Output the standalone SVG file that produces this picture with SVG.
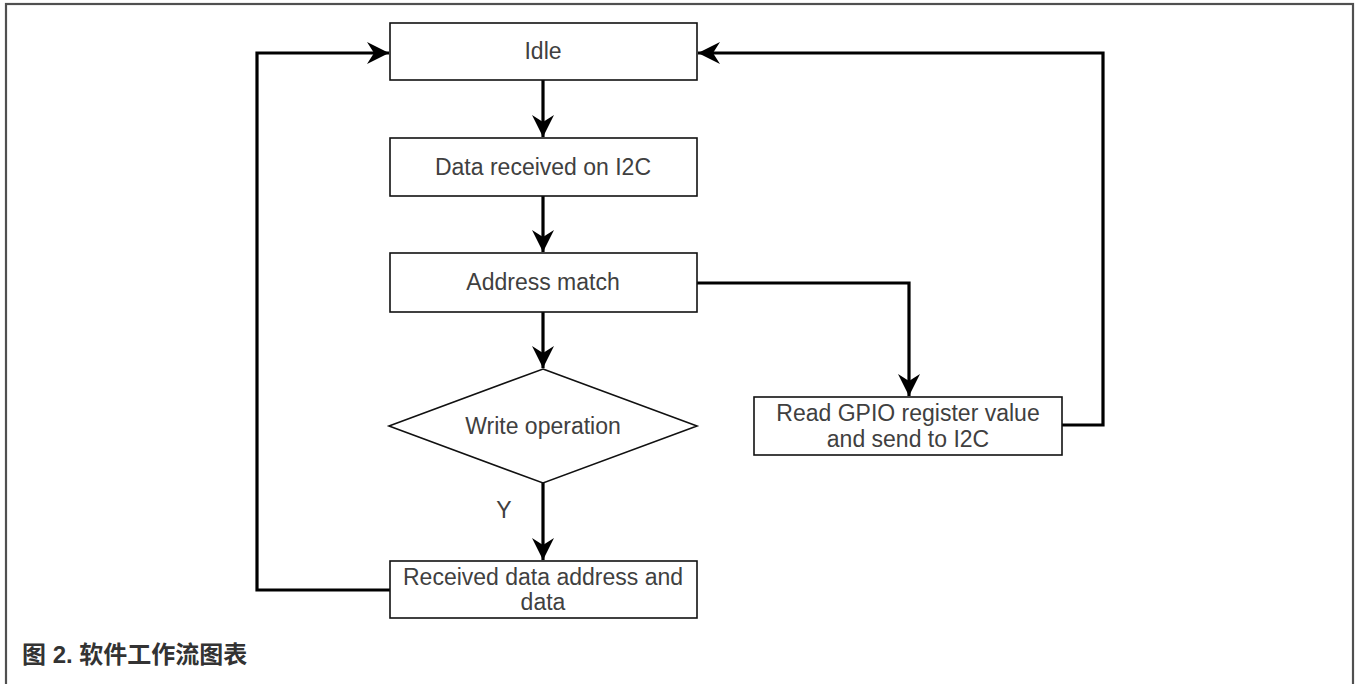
<svg xmlns="http://www.w3.org/2000/svg" width="1356" height="684" viewBox="0 0 1356 684">
  <style>
    .box { fill: #ffffff; stroke: #111111; stroke-width: 1.6; }
    .lbl { font-family: "Liberation Sans", Arial, sans-serif; font-size: 23px; fill: #404040; text-anchor: middle; dominant-baseline: central; }
    .edge { fill: none; stroke: #000000; stroke-width: 3.2; }
    .cap { font-family: "Liberation Sans", "Noto Sans CJK SC", sans-serif; font-size: 24px; font-weight: bold; fill: #333333; }
  </style>
  <defs>
    <!-- classic notched arrowhead, tip at the path end -->
    <marker id="arrow" markerUnits="userSpaceOnUse" markerWidth="24" markerHeight="24" refX="22" refY="12" orient="auto" viewBox="0 0 24 24">
      <path d="M0,1 L22,12 L0,23 L7,12 Z" fill="#000000"/>
    </marker>
  </defs>

  <rect width="1356" height="684" fill="#ffffff"/>
  <!-- frame around the figure -->
  <rect x="6" y="4" width="1347" height="720" fill="none" stroke="#505050" stroke-width="2.2"/>

  <!-- connectors -->
  <g id="connectors">
    <line class="edge" x1="543" y1="80" x2="543" y2="137" marker-end="url(#arrow)"/>
    <line class="edge" x1="543" y1="196" x2="543" y2="252" marker-end="url(#arrow)"/>
    <line class="edge" x1="543" y1="312" x2="543" y2="368" marker-end="url(#arrow)"/>
    <line class="edge" x1="543" y1="483" x2="543" y2="560" marker-end="url(#arrow)"/>
    <polyline class="edge" points="697,283 909,283 909,396" marker-end="url(#arrow)"/>
    <polyline class="edge" points="1062,425 1103,425 1103,53 698,53" marker-end="url(#arrow)"/>
    <polyline class="edge" points="390,590 257,590 257,53 389,53" marker-end="url(#arrow)"/>
    <text class="lbl" x="504" y="510">Y</text>
  </g>

  <g id="idle">
    <rect class="box" x="390" y="23" width="307" height="57"/>
    <text class="lbl" x="543" y="51">Idle</text>
  </g>

  <g id="data-received">
    <rect class="box" x="390" y="138" width="307" height="58"/>
    <text class="lbl" x="543" y="167">Data received on I2C</text>
  </g>

  <g id="address-match">
    <rect class="box" x="390" y="253" width="307" height="59"/>
    <text class="lbl" x="543" y="282">Address match</text>
  </g>

  <g id="write-operation">
    <polygon class="box" points="543,369 697,426 543,483 389,426"/>
    <text class="lbl" x="543" y="426">Write operation</text>
  </g>

  <g id="received-data">
    <rect class="box" x="390" y="561" width="307" height="57"/>
    <text class="lbl" x="543" y="577">Received data address and</text>
    <text class="lbl" x="543" y="602">data</text>
  </g>

  <g id="read-gpio">
    <rect class="box" x="754" y="397" width="308" height="58"/>
    <text class="lbl" x="908" y="413">Read GPIO register value</text>
    <text class="lbl" x="908" y="439">and send to I2C</text>
  </g>

  <text class="cap" x="22" y="663">图 2. 软件工作流图表</text>
</svg>
